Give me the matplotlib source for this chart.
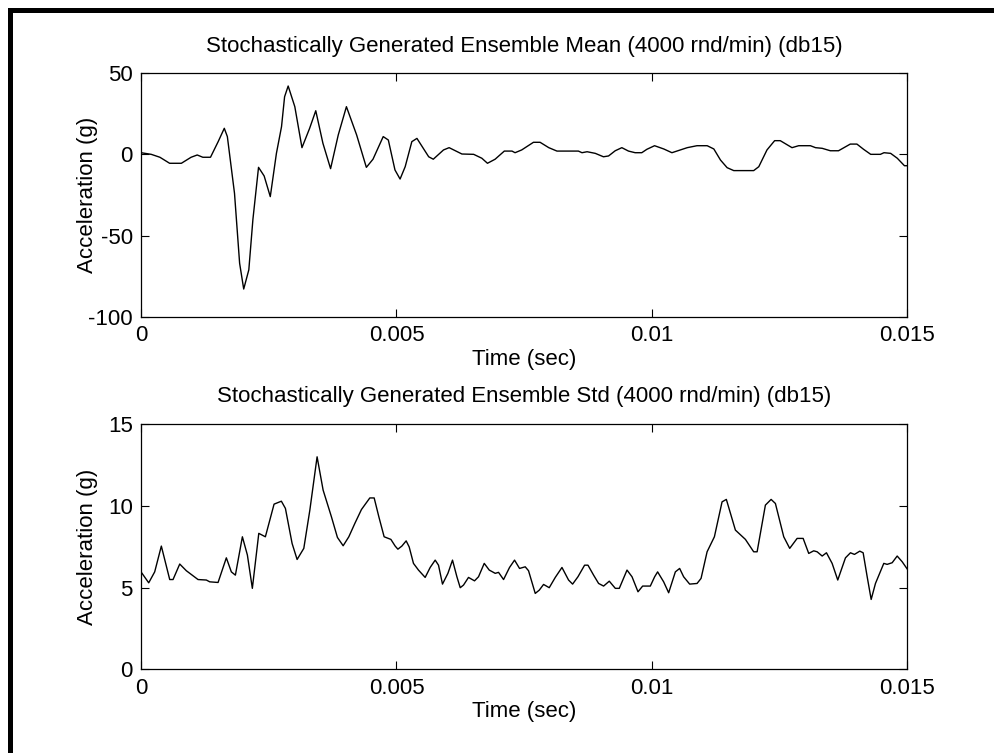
import matplotlib
matplotlib.use("Agg")
import matplotlib.pyplot as plt
from matplotlib.patches import Rectangle

# time in ms, values in g
mean_t_ms = [0.0, 0.20, 0.37, 0.56, 0.79, 0.98, 1.10, 1.21, 1.36, 1.51, 1.63, 1.69,
             1.83, 1.93, 2.01, 2.11, 2.19, 2.30, 2.41, 2.53, 2.65, 2.75, 2.81, 2.88,
             3.01, 3.15, 3.30, 3.42, 3.56, 3.71, 3.86, 4.02, 4.22, 4.41, 4.54, 4.74,
             4.84, 4.97, 5.07, 5.17, 5.30, 5.40, 5.63, 5.72, 5.92, 6.03, 6.28, 6.51,
             6.67, 6.78, 6.93, 7.11, 7.26, 7.32, 7.45, 7.68, 7.81, 7.98, 8.14, 8.56,
             8.63, 8.73, 8.89, 9.05, 9.15, 9.28, 9.41, 9.54, 9.67, 9.80, 9.90, 10.05,
             10.23, 10.39, 10.69, 10.88, 11.08, 11.21, 11.34, 11.47, 11.60, 11.99,
             12.09, 12.25, 12.40, 12.51, 12.74, 12.87, 13.10, 13.20, 13.33, 13.49,
             13.65, 13.88, 14.01, 14.14, 14.28, 14.47, 14.54, 14.67, 14.80, 14.94, 15.00]
mean_val = [1.0, 0.0, -1.8, -5.5, -5.5, -1.8, -0.4, -1.8, -1.8, 7.8, 16.0, 10.9,
            -24.0, -67.0, -82.8, -71.0, -40.0, -8.0, -13.3, -26.0, 0.6, 17.0, 35.4, 42.0,
            29.3, 4.1, 16.0, 26.8, 6.8, -8.8, 11.9, 29.3, 11.9, -8.0, -3.0, 10.9,
            8.8, -9.6, -15.2, -7.6, 7.8, 9.8, -1.5, -3.0, 2.7, 4.1, 0.2, 0.0,
            -2.4, -5.5, -3.0, 2.0, 2.0, 1.0, 2.7, 7.4, 7.4, 4.1, 2.0, 2.0,
            1.0, 1.6, 0.6, -1.5, -1.0, 2.2, 4.1, 2.0, 1.0, 1.0, 3.1, 5.3,
            3.3, 1.0, 4.1, 5.3, 5.3, 3.3, -3.5, -8.2, -10.0, -10.0,
            -7.6, 2.7, 8.4, 8.4, 4.1, 5.3, 5.3, 4.1, 3.7, 2.2,
            2.2, 6.3, 6.3, 3.1, 0.0, 0.0, 1.0, 0.6, -2.4, -7.0, -7.0]

std_t_ms = [0.0, 0.151, 0.268, 0.398, 0.562, 0.627, 0.758, 0.887, 1.116, 1.279, 1.345,
            1.508, 1.670, 1.768, 1.847, 1.984, 2.082, 2.179, 2.305, 2.434, 2.604, 2.747,
            2.826, 2.957, 3.055, 3.186, 3.304, 3.446, 3.564, 3.727, 3.844, 3.956, 4.067,
            4.185, 4.314, 4.478, 4.563, 4.655, 4.758, 4.890, 4.974, 5.027, 5.105, 5.189,
            5.248, 5.332, 5.430, 5.561, 5.659, 5.757, 5.822, 5.900, 6.006, 6.096, 6.182,
            6.247, 6.311, 6.409, 6.527, 6.605, 6.717, 6.815, 6.932, 6.997, 7.095, 7.212,
            7.310, 7.408, 7.519, 7.584, 7.715, 7.794, 7.878, 7.989, 8.107, 8.238, 8.367,
            8.446, 8.551, 8.681, 8.747, 8.857, 8.955, 9.053, 9.164, 9.282, 9.360, 9.511,
            9.609, 9.726, 9.817, 9.967, 10.052, 10.110, 10.228, 10.326, 10.457, 10.541,
            10.619, 10.737, 10.882, 10.960, 11.078, 11.221, 11.371, 11.455, 11.632, 11.828,
            11.990, 12.057, 12.219, 12.331, 12.415, 12.578, 12.695, 12.840, 12.958, 13.067,
            13.165, 13.232, 13.330, 13.414, 13.525, 13.635, 13.786, 13.884, 13.962, 14.066,
            14.132, 14.211, 14.289, 14.373, 14.536, 14.602, 14.700, 14.798, 14.896, 15.0]
std_val = [5.97, 5.30, 5.97, 7.55, 5.50, 5.50, 6.45, 6.04, 5.50, 5.47, 5.36,
           5.32, 6.83, 5.97, 5.77, 8.12, 7.00, 4.96, 8.33, 8.12, 10.12, 10.30,
           9.86, 7.71, 6.73, 7.41, 9.75, 13.02, 10.98, 9.34, 8.08, 7.57, 8.12,
           8.94, 9.79, 10.50, 10.50, 9.34, 8.12, 7.96, 7.55, 7.36, 7.55, 7.87,
           7.50, 6.49, 6.08, 5.63, 6.24, 6.69, 6.38, 5.22, 5.88, 6.69, 5.67,
           5.00, 5.16, 5.63, 5.42, 5.67, 6.49, 6.08, 5.88, 5.94, 5.50, 6.24,
           6.69, 6.18, 6.28, 6.04, 4.65, 4.85, 5.20, 5.00, 5.63, 6.24, 5.47,
           5.22, 5.67, 6.38, 6.38, 5.77, 5.26, 5.10, 5.40, 4.96, 4.96, 6.08,
           5.67, 4.75, 5.10, 5.10, 5.67, 5.97, 5.36, 4.69, 5.97, 6.18,
           5.67, 5.22, 5.26, 5.57, 7.20, 8.12, 10.26, 10.41, 8.53, 7.96,
           7.20, 7.20, 10.06, 10.41, 10.16, 8.12, 7.41, 8.02, 8.02, 7.10,
           7.26, 7.20, 6.94, 7.14, 6.49, 5.47, 6.83, 7.14, 7.04, 7.24,
           7.14, 5.67, 4.28, 5.26, 6.49, 6.43, 6.53, 6.94, 6.59, 6.12]

x_ticks = [0, 0.005, 0.01, 0.015]
x_ticklabels = ["0", "0.005", "0.01", "0.015"]
mean_yticks = [-100, -50, 0, 50]
std_yticks = [0, 5, 10, 15]

plt.rcParams["font.family"] = ["Liberation Sans", "DejaVu Sans"]
plt.rcParams["font.size"] = 16
plt.rcParams["axes.unicode_minus"] = False

W, H = 995, 753
fig = plt.figure(figsize=(W / 100, H / 100), dpi=100)

# black frame lines on top and left (as in the screenshot)
fig.add_artist(Rectangle((8 / W, 0), 5 / W, 1 - 8 / H, transform=fig.transFigure,
                         color="black", lw=0))
fig.add_artist(Rectangle((8 / W, 1 - 13 / H), 1 - 8 / W, 5 / H, transform=fig.transFigure,
                         color="black", lw=0))

ax1 = fig.add_axes([141 / W, 1 - 317 / H, 766.5 / W, 244 / H])
ax2 = fig.add_axes([141 / W, 1 - 669.3 / H, 766.5 / W, 244.8 / H])

ax1.plot([t / 1000 for t in mean_t_ms], mean_val, color="black", lw=1.0)
ax2.plot([t / 1000 for t in std_t_ms], std_val, color="black", lw=1.0)

ax1.set_ylim(-100, 50)
ax1.set_yticks(mean_yticks)
ax1.set_title("Stochastically Generated Ensemble Mean (4000 rnd/min) (db15)",
              fontsize=16, pad=15)
ax2.set_ylim(0, 15)
ax2.set_yticks(std_yticks)
ax2.set_title("Stochastically Generated Ensemble Std (4000 rnd/min) (db15)",
              fontsize=16, pad=16)

for ax in (ax1, ax2):
    ax.set_xlim(0, 0.015)
    ax.set_xticks(x_ticks)
    ax.set_xticklabels(x_ticklabels)
    ax.set_xlabel("Time (sec)", labelpad=2)
    ax.set_ylabel("Acceleration (g)")
    ax.yaxis.set_label_coords(-0.0561, 0.5)
    ax.tick_params(direction="in", length=6, width=0.8, top=True, right=True,
                   labelsize=16, pad=6)
    for s in ax.spines.values():
        s.set_linewidth(0.9)

fig.savefig("out.png", dpi=100)
